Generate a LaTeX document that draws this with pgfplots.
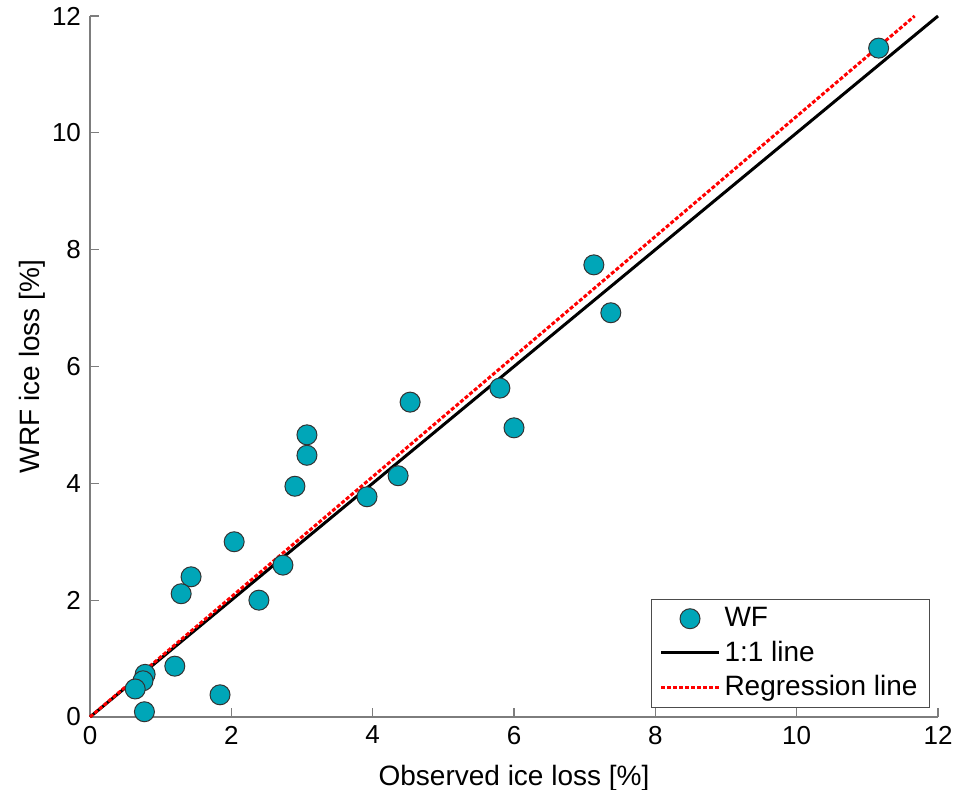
\documentclass[border=0pt]{standalone}
\usepackage{pgfplots}
\pgfplotsset{compat=1.18}
\usepackage{fontspec}
\setmainfont{Liberation Sans}

\definecolor{wfteal}{RGB}{0,166,184}
\definecolor{axisgray}{RGB}{125,125,125}

\pgfplotsset{
  wide line legend/.style={legend image code/.code={\draw[##1] (0pt,0pt) -- (29pt,0pt);}},
  wide mark legend/.style={legend image code/.code={\draw[mark repeat=2,mark phase=2,##1] plot coordinates {(0pt,0pt) (14.5pt,0pt) (29pt,0pt)};}},
}

\begin{document}
\fontsize{13}{15.6}\selectfont
\begin{tikzpicture}
% fixed canvas around the axis box
\useasboundingbox (-45pt,-36.5pt) rectangle (433pt,358.5pt);
\begin{axis}[
  at={(0,0)}, anchor=south west,
  scale only axis,
  width=424pt, height=350.5pt,
  xmin=0, xmax=12, ymin=0, ymax=12,
  xtick={0,2,...,12}, ytick={0,2,...,12},
  axis lines=left,
  axis line style={-, draw=axisgray, line width=0.6pt},
  tick style={draw=axisgray, line width=0.6pt},
  major tick length=4.5pt,
  tick align=inside,
  /pgf/number format/assume math mode=true,
  ticklabel style={font=\fontsize{13}{15.6}\selectfont, text=black},
  label style={font=\fontsize{14}{16.8}\selectfont},
  xlabel={Observed ice loss [\%]},
  ylabel={WRF ice loss [\%]},
  xlabel style={at={([yshift=-34pt]axis description cs:0.5,0)}, anchor=base},
  ylabel style={at={([xshift=-25pt]axis description cs:0,0.5)}, anchor=base},
  legend style={
    at={(rel axis cs:1,0)}, anchor=south east,
    xshift=-4pt, yshift=4.5pt,
    draw=black!70, line width=0.5pt,
    font=\fontsize{14}{16.8}\selectfont,
    row sep=1.2pt, inner xsep=4pt, inner ysep=2pt,
  },
  legend cell align=left,
  clip=false,
]
% WF observations vs. model
\addplot[only marks, mark=*, mark size=5pt,
  mark options={fill=wfteal, draw=black!80, line width=0.5pt}, wide mark legend]
  table {
x y
11.16 11.45
7.13 7.74
7.37 6.92
5.80 5.63
6.00 4.95
4.53 5.39
4.36 4.13
3.92 3.77
3.07 4.83
3.07 4.48
2.90 3.95
2.04 3.00
2.73 2.60
2.39 2.00
1.43 2.40
1.29 2.11
1.20 0.87
1.84 0.38
0.78 0.73
0.75 0.62
0.64 0.48
0.77 0.09
  };
% 1:1 line
\addplot[black, line width=1.5pt, wide line legend]
  coordinates {(0,0) (12,12)};
% regression line
\addplot[red, line width=1.5pt, dash pattern=on 2pt off 1pt, wide line legend]
  coordinates {(0,0) (11.67,12)};
\legend{WF, 1:1 line, Regression line}
\end{axis}
\end{tikzpicture}
\end{document}
